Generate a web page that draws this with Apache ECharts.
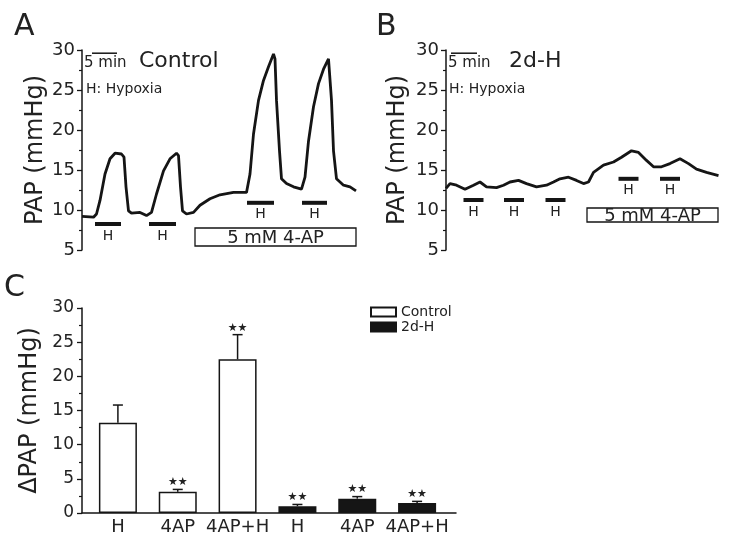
<!DOCTYPE html>
<html>
<head>
<meta charset="utf-8">
<script src="https://cdn.jsdelivr.net/npm/echarts@6/dist/echarts.min.js"></script>
<style>html,body{margin:0;padding:0;background:#fff}#c{width:729px;height:542px}</style>
</head>
<body>
<div id="c"></div>
<script>
// ---------- Panel A (Control) trace: time (min) / PAP (mmHg) ----------
const timeA = [0,2.3,2.9,3.6,4.6,5.6,6.6,7.9,8.4,8.8,9.3,9.9,11.6,12.9,13.9,14.9,16.3,17.6,18.9,19.3,19.7,20.1,20.9,22.3,23.6,25.6,27.6,30.3,32.9,33.6,34.3,35.3,36.3,37.3,38.3,38.6,38.9,39.5,39.9,40.9,42.3,43.9,44.6,45.3,46.3,47.3,48.3,49.3,49.6,49.9,50.3,50.9,52.3,53.6,54.8];
const papA  = [9.2,9.1,9.5,11.2,14.5,16.4,17.1,17.0,16.6,12.9,9.9,9.6,9.7,9.3,9.7,12.0,14.9,16.4,17.1,16.8,12.9,9.9,9.5,9.7,10.6,11.4,11.9,12.2,12.2,14.5,19.5,23.7,26.2,27.9,29.5,28.9,23.7,17.4,13.9,13.3,12.9,12.6,14.1,18.6,22.9,25.8,27.6,28.9,28.7,23.7,17.4,13.9,13.1,12.9,12.4];
// hypoxia bars: [start, end, level]
const hypoxiaA = [[2.6,7.8,8.25],[13.4,18.8,8.25],[33.0,38.4,10.9],[44.0,49.0,10.9]];
// 4-AP box: [start, end, top, bottom]
const apBoxA = [[22.6,54.8,7.75,5.5]];
// 5 min scale bar: [start, end, level]
const scaleA = [[2.0,7.0,29.6]];

// ---------- Panel B (2d-H) trace ----------
const timeB = [0,0.8,2.1,3.8,5.5,6.8,8.1,10.1,11.5,12.8,14.5,16.1,18.1,20.1,21.5,22.8,24.5,26.1,27.5,28.5,29.5,31.5,33.5,35.1,37.1,38.5,40.1,41.5,43.1,44.8,46.8,48.5,50.1,52.1,54.5];
const papB  = [12.7,13.3,13.1,12.6,13.1,13.5,12.9,12.8,13.1,13.5,13.7,13.3,12.9,13.1,13.5,13.9,14.1,13.7,13.3,13.5,14.7,15.6,16.0,16.6,17.4,17.2,16.2,15.4,15.4,15.8,16.4,15.8,15.1,14.7,14.3];
const hypoxiaB = [[3.5,7.5,11.25],[11.6,15.6,11.25],[19.9,23.9,11.25],[34.5,38.5,13.9],[42.8,46.8,13.9]];
const apBoxB = [[28.2,54.4,10.25,8.5]];
const scaleB = [[1.0,6.2,29.6]];

// ---------- Panel C (ΔPAP bar chart) ----------
const categoriesC = ['H','4AP','4AP+H','H','4AP','4AP+H'];
const controlMean = [13.2, 3.1, 22.5];
const controlSem  = [2.6, 0.35, 3.6];
const hypoxMean   = [1.0, 2.1, 1.45];
const hypoxSem    = [0.25, 0.3, 0.25];
const sigC        = ['', '**', '**', '**', '**', '**'];

const FONT = '"DejaVu Sans", "Liberation Sans", sans-serif';
const INK = '#151515';

const chart = echarts.init(document.getElementById('c'), null, {renderer: 'canvas'});

function zip(a, b) { return a.map((v, i) => [v, b[i]]); }

function hBarRender(params, api) {
  const a = api.coord([api.value(0), api.value(2)]);
  const b = api.coord([api.value(1), api.value(2)]);
  return {type: 'group', children: [
    {type: 'line', shape: {x1: a[0], y1: a[1], x2: b[0], y2: b[1]}, style: {stroke: INK, lineWidth: 4}},
    {type: 'text', style: {text: 'H', x: (a[0] + b[0]) / 2, y: a[1] + 12, align: 'center', verticalAlign: 'middle', fontSize: 14, fontFamily: FONT, fill: '#222'}}
  ]};
}
function boxRender(params, api) {
  const a = api.coord([api.value(0), api.value(2)]);
  const b = api.coord([api.value(1), api.value(3)]);
  return {type: 'group', children: [
    {type: 'rect', shape: {x: a[0], y: a[1], width: b[0] - a[0], height: b[1] - a[1]}, style: {fill: '#fff', stroke: INK, lineWidth: 1.3}},
    {type: 'text', style: {text: '5 mM 4-AP', x: (a[0] + b[0]) / 2, y: (a[1] + b[1]) / 2 + 1, align: 'center', verticalAlign: 'middle', fontSize: 18, fontFamily: FONT, fill: '#222'}}
  ]};
}
function scaleRender(params, api) {
  const a = api.coord([api.value(0), api.value(2)]);
  const b = api.coord([api.value(1), api.value(2)]);
  return {type: 'group', children: [
    {type: 'line', shape: {x1: a[0], y1: a[1], x2: b[0], y2: b[1]}, style: {stroke: INK, lineWidth: 1.5}}
  ]};
}
function errRender(params, api) {
  const x = api.value(0), m = api.value(1), s = api.value(2);
  const base = api.coord([x, m]);
  const top = api.coord([x, m + s]);
  const star = sigC[params.dataIndex];
  const ch = [
    {type: 'line', shape: {x1: base[0], y1: base[1], x2: top[0], y2: top[1]}, style: {stroke: INK, lineWidth: 1.5}},
    {type: 'line', shape: {x1: top[0] - 5, y1: top[1], x2: top[0] + 5, y2: top[1]}, style: {stroke: INK, lineWidth: 1.5}}
  ];
  if (star) {
    ch.push({type: 'text', style: {text: '★★', x: top[0], y: top[1] - 7, align: 'center', verticalAlign: 'middle', fontSize: 11, fontFamily: FONT, fill: '#222'}});
  }
  return {type: 'group', children: ch};
}

function traceYAxis(gridIndex, nameGap) {
  return {
    gridIndex, type: 'value', min: 5, max: 30, interval: 5,
    name: 'PAP (mmHg)', nameLocation: 'middle', nameGap,
    nameTextStyle: {fontSize: 24, fontFamily: FONT, color: '#222'},
    axisLine: {show: true, lineStyle: {color: INK, width: 1.5}},
    axisTick: {show: true, length: 5, lineStyle: {color: INK, width: 1.3}},
    minorTick: {show: true, splitNumber: 2, length: 3, lineStyle: {color: INK, width: 1.2}},
    axisLabel: {fontSize: 18, fontFamily: FONT, color: '#222', margin: 7},
    splitLine: {show: false}
  };
}

const errData = controlMean.map((m, i) => [i + 1, m, controlSem[i]])
  .concat(hypoxMean.map((m, i) => [i + 4, m, hypoxSem[i]]));

const option = {
  backgroundColor: '#fff',
  animation: false,
  textStyle: {fontFamily: FONT},
  grid: [
    {left: 82, top: 50, width: 275, height: 200},
    {left: 446, top: 50, width: 275, height: 200},
    {left: 82, top: 308, width: 374, height: 205}
  ],
  xAxis: [
    {gridIndex: 0, type: 'value', min: 0, max: 55, show: false},
    {gridIndex: 1, type: 'value', min: 0, max: 55, show: false},
    {gridIndex: 2, type: 'value', min: 0.4, max: 6.65,
      axisLine: {show: true, onZero: false, lineStyle: {color: INK, width: 1.5}},
      axisTick: {show: false},
      splitLine: {show: false},
      axisLabel: {customValues: [1, 2, 3, 4, 5, 6], fontSize: 18, fontFamily: FONT, color: '#222', margin: 5,
        formatter: v => categoriesC[Math.round(v) - 1] || ''}
    }
  ],
  yAxis: [
    traceYAxis(0, 32),
    traceYAxis(1, 36),
    {gridIndex: 2, type: 'value', min: 0, max: 30, interval: 5,
      name: 'ΔPAP (mmHg)', nameLocation: 'middle', nameGap: 29,
      nameTextStyle: {fontSize: 24, fontFamily: FONT, color: '#222'},
      axisLine: {show: true, lineStyle: {color: INK, width: 1.5}},
      axisTick: {show: true, length: 5, lineStyle: {color: INK, width: 1.3}},
      minorTick: {show: true, splitNumber: 2, length: 3, lineStyle: {color: INK, width: 1.2}},
      axisLabel: {fontSize: 17, fontFamily: FONT, color: '#222', margin: 8},
      splitLine: {show: false}
    }
  ],
  legend: {
    left: 370, top: 305, orient: 'vertical', itemWidth: 25, itemHeight: 9, itemGap: 1,
    icon: 'rect', padding: 0,
    textStyle: {fontSize: 14, fontFamily: FONT, color: '#222', lineHeight: 14},
    data: ['Control', '2d-H']
  },
  graphic: [
    {type: 'text', left: 14, top: 12, style: {text: 'A', fontSize: 30, fontFamily: FONT, fill: '#222'}},
    {type: 'text', left: 376, top: 12, style: {text: 'B', fontSize: 30, fontFamily: FONT, fill: '#222'}},
    {type: 'text', left: 4, top: 273, style: {text: 'C', fontSize: 30, fontFamily: FONT, fill: '#222'}},
    {type: 'text', left: 84, top: 56, style: {text: '5 min', fontSize: 15, fontFamily: FONT, fill: '#222'}},
    {type: 'text', left: 139, top: 50, style: {text: 'Control', fontSize: 22, fontFamily: FONT, fill: '#222'}},
    {type: 'text', left: 86, top: 82, style: {text: 'H: Hypoxia', fontSize: 14, fontFamily: FONT, fill: '#222'}},
    {type: 'text', left: 448, top: 56, style: {text: '5 min', fontSize: 15, fontFamily: FONT, fill: '#222'}},
    {type: 'text', left: 509, top: 50, style: {text: '2d-H', fontSize: 22, fontFamily: FONT, fill: '#222'}},
    {type: 'text', left: 449, top: 82, style: {text: 'H: Hypoxia', fontSize: 14, fontFamily: FONT, fill: '#222'}}
  ],
  series: [
    {type: 'line', xAxisIndex: 0, yAxisIndex: 0, data: zip(timeA, papA), showSymbol: false, symbol: 'none',
      lineStyle: {color: INK, width: 2.8}, silent: true},
    {type: 'custom', xAxisIndex: 0, yAxisIndex: 0, data: hypoxiaA, renderItem: hBarRender, silent: true},
    {type: 'custom', xAxisIndex: 0, yAxisIndex: 0, data: apBoxA, renderItem: boxRender, silent: true},
    {type: 'custom', xAxisIndex: 0, yAxisIndex: 0, data: scaleA, renderItem: scaleRender, silent: true},

    {type: 'line', xAxisIndex: 1, yAxisIndex: 1, data: zip(timeB, papB), showSymbol: false, symbol: 'none',
      lineStyle: {color: INK, width: 2.8}, silent: true},
    {type: 'custom', xAxisIndex: 1, yAxisIndex: 1, data: hypoxiaB, renderItem: hBarRender, silent: true},
    {type: 'custom', xAxisIndex: 1, yAxisIndex: 1, data: apBoxB, renderItem: boxRender, silent: true},
    {type: 'custom', xAxisIndex: 1, yAxisIndex: 1, data: scaleB, renderItem: scaleRender, silent: true},

    {name: 'Control', type: 'bar', xAxisIndex: 2, yAxisIndex: 2, barWidth: 38, barGap: '-100%',
      data: controlMean.map((m, i) => [i + 1, m]),
      itemStyle: {color: '#fff', borderColor: INK, borderWidth: 1.5}},
    {name: '2d-H', type: 'bar', xAxisIndex: 2, yAxisIndex: 2, barWidth: 38, barGap: '-100%',
      data: hypoxMean.map((m, i) => [i + 4, m]),
      itemStyle: {color: INK, borderColor: INK, borderWidth: 1.5}},
    {type: 'custom', xAxisIndex: 2, yAxisIndex: 2, data: errData, renderItem: errRender, silent: true, z: 5}
  ]
};
chart.setOption(option);
</script>
</body>
</html>
